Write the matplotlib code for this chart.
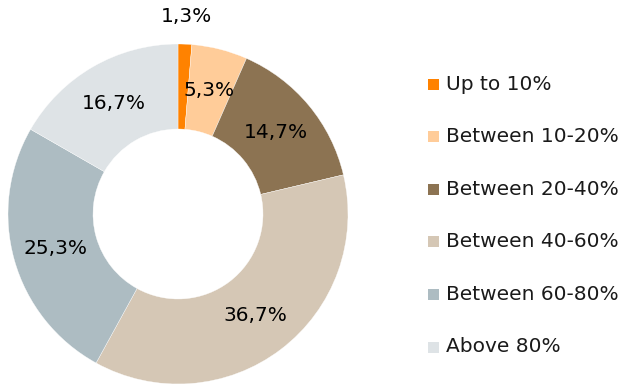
import numpy as np
import matplotlib.pyplot as plt
from matplotlib.patches import Rectangle

categories = ["Up to 10%", "Between 10-20%", "Between 20-40%",
              "Between 40-60%", "Between 60-80%", "Above 80%"]
shares = [1.3, 5.3, 14.7, 36.7, 25.3, 16.7]
colors = ["#FF8200", "#FFCC99", "#8C7352", "#D5C7B5", "#ADBCC2", "#DEE3E6"]

plt.rcParams['font.family'] = ['DejaVu Sans']

W, H = 643, 385
fig = plt.figure(figsize=(W / 100, H / 100), dpi=100)

# donut: centre (178, 214) px, outer radius 170 px
cx, cy, R = 178, 214, 170
ax = fig.add_axes([(cx - R) / W, (H - cy - R) / H, 2 * R / W, 2 * R / H])
wedges, _ = ax.pie(shares, colors=colors, startangle=90, counterclock=False,
                   radius=1, wedgeprops=dict(width=0.5, edgecolor="white", linewidth=0.25))
ax.set_xlim(-1, 1)
ax.set_ylim(-1, 1)
ax.set_aspect("equal")
ax.axis("off")

start = 90.0
for val in shares:
    mid = np.deg2rad(start - val * 3.6 / 2)
    start -= val * 3.6
    r = 1.16 if val < 3 else 0.75
    txt = f"{val:.1f}%".replace(".", ",")
    ax.text(r * np.cos(mid), r * np.sin(mid), txt, ha="center", va="center",
            fontsize=14.5, color="black", clip_on=False)

# legend on the right
y0, dy = 84, 52.6
for i, (name, c) in enumerate(zip(categories, colors)):
    y = y0 + i * dy
    fig.patches.append(Rectangle((428 / W, (H - y - 5.5) / H), 11 / W, 11 / H,
                                 transform=fig.transFigure, facecolor=c, edgecolor="none"))
    fig.text(446 / W, (H - y) / H, name, ha="left", va="center",
             fontsize=14.5, color="#1a1a1a")

fig.savefig("out.png", dpi=100)
